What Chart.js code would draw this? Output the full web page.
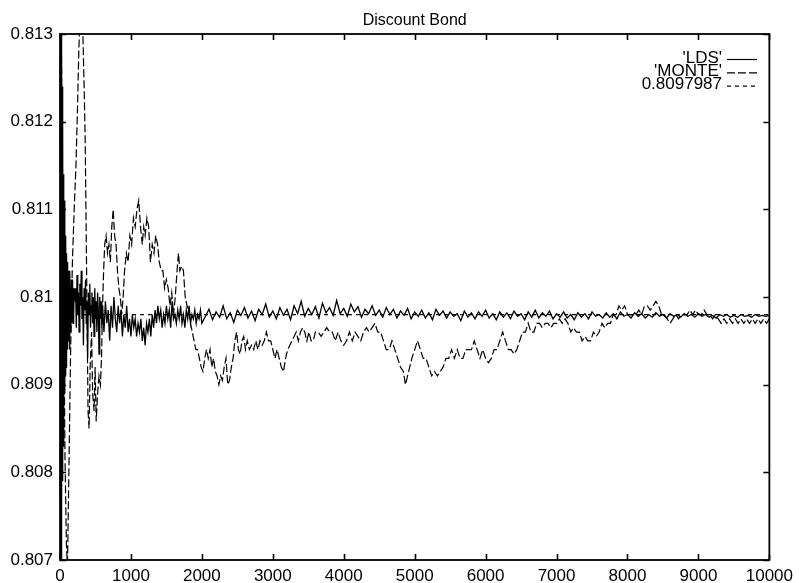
<!DOCTYPE html>
<html>
<head>
<meta charset="utf-8">
<script src="https://cdn.jsdelivr.net/npm/chart.js@4/dist/chart.umd.min.js"></script>
<style>
html,body{margin:0;padding:0;background:#fff;}
#wrap{width:799px;height:583px;}
</style>
</head>
<body>
<div id="wrap"><canvas id="c" width="799" height="583"></canvas></div>
<script>
const chartTitle = 'Discount Bond';
const seriesLabels = ["'LDS'", "'MONTE'", "0.8097987"];
const refValue = 0.8097987;
const xTickValues = [0,1000,2000,3000,4000,5000,6000,7000,8000,9000,10000];
const xTickLabels = ['0','1000','2000','3000','4000','5000','6000','7000','8000','9000','10000'];
const yTickValues = [0.807,0.808,0.809,0.810,0.811,0.812,0.813];
const yTickLabels = ['0.807','0.808','0.809','0.81','0.811','0.812','0.813'];

const ldsX = [
0,5,10,15,20,25,30,35,40,45,50,55,60,65,70,75,80,85,90,95,100,105,110,115,120,125,130,135,140,145,150,155,160,165,170,175,180,185,190,195,200,
210,220,230,240,250,260,270,280,290,300,310,320,330,340,350,360,370,380,390,400,410,420,430,440,450,460,470,480,490,500,510,520,530,540,550,560,570,580,590,600,
620,640,660,680,700,720,740,760,780,800,820,840,860,880,900,920,940,960,980,1000,1020,1040,1060,1080,1100,1120,1140,1160,1180,1200,1220,1240,1260,1280,1300,1320,1340,1360,1380,1400,1420,1440,1460,1480,1500,1520,1540,1560,1580,1600,1620,1640,1660,1680,1700,1720,1740,1760,1780,1800,1820,1840,1860,1880,1900,1920,1940,1960,1980,2000,
2050,2100,2150,2200,2250,2300,2350,2400,2450,2500,2550,2600,2650,2700,2750,2800,2850,2900,2950,3000,3050,3100,3150,3200,3250,3300,3350,3400,3450,3500,3550,3600,3650,3700,3750,3800,3850,3900,3950,4000,
4050,4100,4150,4200,4250,4300,4350,4400,4450,4500,4550,4600,4650,4700,4750,4800,4850,4900,4950,5000,5050,5100,5150,5200,5250,5300,5350,5400,5450,5500,5550,5600,5650,5700,5750,5800,5850,5900,5950,6000,
6050,6100,6150,6200,6250,6300,6350,6400,6450,6500,6550,6600,6650,6700,6750,6800,6850,6900,6950,7000,7050,7100,7150,7200,7250,7300,7350,7400,7450,7500,7550,7600,7650,7700,7750,7800,7850,7900,7950,8000,
8050,8100,8150,8200,8250,8300,8350,8400,8450,8500,8550,8600,8650,8700,8750,8800,8850,8900,8950,9000,9050,9100,9150,9200,9250,9300,9350,9400,9450,9500,9550,9600,9650,9700,9750,9800,9850,9900,9950,10000
];
const ldsY = [
0.8140,0.8062,0.8138,0.8068,0.8133,0.8075,0.8124,0.8079,0.8119,0.8083,0.8114,0.8086,0.8111,0.8089,0.8108,0.8091,0.8107,0.8092,0.8105,0.8093,0.8104,0.8094,0.8103,0.8095,0.8103,0.8096,0.8102,0.8094,0.8103,0.8097,0.8101,0.8096,0.8102,0.8097,0.8101,0.8098,0.8102,0.8097,0.8101,0.8098,0.8101,
0.80995,0.81010,0.80965,0.81025,0.80980,0.81005,0.80960,0.81015,0.80990,0.81030,0.80975,0.81000,0.80945,0.81010,0.80985,0.81020,0.80970,0.80995,0.80930,0.81005,0.80980,0.81015,0.80965,0.80990,0.81005,0.80970,0.81000,0.80955,0.81010,0.80975,0.80995,0.80960,0.81005,0.80985,0.80935,0.81000,0.80975,0.80995,0.80965,0.80990,
0.80960,0.80995,0.80970,0.80985,0.80950,0.80990,0.80965,0.81000,0.80975,0.80960,0.80990,0.80970,0.80985,0.80955,0.80980,0.80965,0.80990,0.80960,0.80975,0.80955,0.80980,0.80965,0.80975,0.80955,0.80970,0.80960,0.80975,0.80950,0.80965,0.80945,0.80970,0.80960,0.80975,0.80955,0.80980,0.80965,0.80985,0.80970,0.80990,0.80975,0.80985,0.80965,0.80980,0.80970,0.80990,0.80975,0.80985,0.80965,0.80995,0.80975,0.80980,0.80970,0.80985,0.80975,0.80990,0.80970,0.80980,0.80965,0.80985,0.80975,0.80990,0.80970,0.80980,0.80975,0.80985,0.80970,0.80980,0.80975,0.80985,0.80970,
0.80978,0.80986,0.80974,0.80983,0.80977,0.80990,0.80975,0.80982,0.80971,0.80985,0.80979,0.80988,0.80976,0.80984,0.80973,0.80986,0.80980,0.80992,0.80977,0.80984,0.80975,0.80988,0.80979,0.80986,0.80974,0.80990,0.80981,0.80995,0.80978,0.80987,0.80980,0.80989,0.80976,0.80993,0.80982,0.80988,0.80979,0.80996,0.80981,0.80987,
0.80978,0.80992,0.80983,0.80989,0.80977,0.80986,0.80981,0.80990,0.80979,0.80985,0.80977,0.80988,0.80980,0.80986,0.80976,0.80984,0.80979,0.80987,0.80975,0.80983,0.80978,0.80985,0.80976,0.80982,0.80974,0.80986,0.80979,0.80984,0.80976,0.80983,0.80978,0.80981,0.80973,0.80984,0.80977,0.80982,0.80975,0.80983,0.80978,0.80985,
0.80976,0.80981,0.80974,0.80983,0.80977,0.80982,0.80975,0.80984,0.80978,0.80981,0.80974,0.80983,0.80977,0.80985,0.80976,0.80982,0.80978,0.80984,0.80975,0.80981,0.80977,0.80983,0.80976,0.80980,0.80974,0.80982,0.80977,0.80981,0.80975,0.80983,0.80978,0.80980,0.80976,0.80982,0.80977,0.80981,0.80975,0.80983,0.80978,0.80980,
0.80976,0.80982,0.80978,0.80981,0.80976,0.80980,0.80977,0.80982,0.80978,0.80980,0.80976,0.80981,0.80978,0.80980,0.80977,0.80981,0.80978,0.80980,0.80977,0.80981,0.80978,0.80980,0.80977,0.80979,0.80976,0.80980,0.80978,0.80980,0.80977,0.80979,0.80977,0.80980,0.80978,0.80979,0.80977,0.80980,0.80978,0.80979,0.80978,0.80979
];

const monteX = [
0,20,45,70,90,105,125,150,175,200,225,245,265,285,300,320,340,355,375,395,410,425,445,460,480,495,510,530,550,570,585,600,615,630,650,670,690,710,730,750,770,790,810,830,850,870,890,910,935,960,985,1010,1035,1060,1085,1110,1135,1160,1180,1200,1225,1250,1275,1300,1325,1350,1375,1400,1425,1450,1475,1500,1525,1550,1575,1600,1625,1650,1670,1690,1715,1740,1765,1790,1815,1840,1865,1890,1915,1940,1965,1990,
2015,2040,2065,2090,2115,2140,2165,2190,2215,2240,2265,2290,2315,2340,2365,2390,2415,2440,2465,2490,2515,2540,2565,2590,2615,2640,2670,2700,2730,2760,2790,2820,2850,2880,2910,2940,2970,3000,3030,3060,3090,3120,3150,3180,3210,3240,3270,3300,3330,3360,3390,3420,3450,3480,3510,3540,3570,3600,3640,3680,3720,3760,3800,3840,3880,3920,3960,
4000,4040,4080,4120,4160,4200,4240,4280,4320,4360,4400,4440,4480,4520,4560,4600,4640,4680,4720,4760,4800,4840,4870,4900,4930,4960,5000,5040,5080,5120,5160,5200,5240,5280,5320,5360,5400,5440,5480,5520,5560,5600,5640,5680,5720,5760,5800,5840,5880,5920,5960,
6000,6040,6080,6120,6160,6200,6240,6280,6320,6360,6400,6440,6480,6520,6560,6600,6640,6680,6720,6760,6800,6840,6880,6920,6960,7000,7040,7080,7120,7160,7200,7240,7280,7320,7360,7400,7440,7480,7520,7560,7600,7640,7680,7720,7760,7800,7840,7880,7920,7960,
8000,8040,8080,8120,8160,8200,8240,8280,8320,8360,8400,8440,8480,8520,8560,8600,8640,8680,8720,8760,8800,8840,8880,8920,8960,9000,9040,9080,9120,9160,9200,9240,9280,9320,9360,9400,9440,9480,9520,9560,9600,9640,9680,9720,9760,9800,9840,9880,9920,9960,10000
];
const monteY = [
0.8140,0.8128,0.8105,0.8082,0.8072,0.8069,0.8080,0.8094,0.8104,0.8110,0.8115,0.8121,0.8128,0.8133,0.8136,0.8131,0.8124,0.8118,0.8103,0.8087,0.8085,0.8092,0.8096,0.8089,0.8087,0.8092,0.80858,0.8089,0.8091,0.8090,0.8093,0.8099,0.8103,0.8106,0.8107,0.8105,0.8106,0.8104,0.8108,0.8110,0.8107,0.8106,0.8103,0.8101,0.8100,0.8098,0.8100,0.8103,0.8105,0.8104,0.8107,0.8106,0.8109,0.8108,0.8110,0.8111,0.8108,0.8106,0.8108,0.8107,0.8109,0.8108,0.8104,0.8106,0.8105,0.8107,0.8106,0.8104,0.8103,0.8103,0.8101,0.8102,0.8101,0.8099,0.81005,0.8098,0.8100,0.8103,0.8105,0.8103,0.81035,0.8103,0.8100,0.8099,0.80985,0.8097,0.8096,0.8095,0.8094,0.8094,0.8093,0.8092,
0.80915,0.8093,0.8094,0.8093,0.8094,0.8092,0.8093,0.80915,0.8091,0.8090,0.8091,0.80905,0.8092,0.8093,0.8090,0.80905,0.8092,0.8093,0.8095,0.8096,0.8094,0.80935,0.8095,0.80955,0.8094,0.8095,0.8094,0.80945,0.8094,0.8095,0.8094,0.8095,0.80945,0.8095,0.8096,0.8095,0.8095,0.8094,0.8093,0.8094,0.8093,0.8092,0.80915,0.8093,0.8094,0.80945,0.8095,0.80955,0.8096,0.8095,0.8096,0.80965,0.8096,0.8095,0.8096,0.8095,0.8095,0.8096,0.8096,0.80955,0.8096,0.80965,0.8096,0.8096,0.8095,0.8096,0.8095,
0.80945,0.8095,0.8096,0.8095,0.8096,0.80955,0.8095,0.8096,0.80965,0.8096,0.80965,0.8097,0.8096,0.8096,0.8095,0.8094,0.8094,0.8095,0.8094,0.8093,0.8092,0.80915,0.8090,0.8091,0.8092,0.8093,0.8094,0.8095,0.8094,0.8093,0.8093,0.8092,0.8091,0.80915,0.8091,0.80915,0.8092,0.8093,0.8093,0.8094,0.8093,0.8094,0.8093,0.8093,0.8094,0.8094,0.8094,0.8095,0.8094,0.8093,0.8094,
0.8093,0.80925,0.8093,0.8094,0.8094,0.8095,0.8096,0.8095,0.8094,0.8094,0.80935,0.8094,0.8095,0.8096,0.8096,0.8097,0.8096,0.8096,0.8097,0.8097,0.80965,0.8097,0.8097,0.80965,0.8097,0.8097,0.80975,0.8097,0.80975,0.8097,0.8096,0.80965,0.8096,0.8096,0.8095,0.80955,0.8095,0.8095,0.8096,0.80955,0.8096,0.8097,0.80965,0.8097,0.8097,0.8098,0.8098,0.8099,0.80985,0.8099,
0.8098,0.8098,0.8098,0.8098,0.80985,0.8098,0.8099,0.8099,0.80985,0.8099,0.80995,0.8099,0.8098,0.8098,0.80975,0.8097,0.80975,0.8098,0.80975,0.8098,0.8098,0.8098,0.80985,0.8098,0.80985,0.8098,0.8098,0.80985,0.8098,0.8098,0.80975,0.8098,0.80975,0.8097,0.80975,0.8097,0.80975,0.8097,0.80975,0.8097,0.80975,0.8097,0.80975,0.8097,0.80975,0.8097,0.80975,0.8097,0.80975,0.8097,0.80975
];
const refX = [0, 10000];
const refY = [refValue, refValue];

const FONT = "'Liberation Sans', Arial, Helvetica, sans-serif";
const toPts = (xs, ys) => xs.map((x, i) => ({x: x, y: ys[i]}));

const framePlugin = {
  id: 'framePlugin',
  afterDraw(chart) {
    const ctx = chart.ctx, a = chart.chartArea;
    const xs = chart.scales.x, ys = chart.scales.y;
    ctx.save();
    // title centred over the plot area
    ctx.fillStyle = '#000';
    ctx.font = '16px ' + FONT;
    ctx.textAlign = 'center';
    ctx.textBaseline = 'alphabetic';
    ctx.fillText(chartTitle, (a.left + a.right) / 2, 25);
    // frame
    ctx.strokeStyle = '#000';
    ctx.lineWidth = 1.8;
    ctx.strokeRect(a.left, a.top, a.right - a.left, a.bottom - a.top);
    ctx.lineWidth = 1.6;
    ctx.beginPath();
    xTickValues.forEach(v => {
      const p = Math.round(xs.getPixelForValue(v)) + 0.5;
      ctx.moveTo(p, a.bottom); ctx.lineTo(p, a.bottom - 6);
      ctx.moveTo(p, a.top); ctx.lineTo(p, a.top + 6);
    });
    yTickValues.forEach(v => {
      const p = Math.round(ys.getPixelForValue(v)) + 0.5;
      ctx.moveTo(a.left, p); ctx.lineTo(a.left + 6, p);
      ctx.moveTo(a.right, p); ctx.lineTo(a.right - 6, p);
    });
    ctx.stroke();
    // legend (gnuplot style: text right-aligned, sample on the right)
    ctx.font = '17px ' + FONT;
    ctx.textAlign = 'right';
    ctx.textBaseline = 'middle';
    chart.data.datasets.forEach((ds, i) => {
      const yy = 58 + i * 13.3;
      ctx.fillText(ds.label, 722, yy);
      ctx.save();
      ctx.lineWidth = 1.2;
      ctx.setLineDash(ds.borderDash || []);
      ctx.beginPath();
      ctx.moveTo(727, yy + 1.5);
      ctx.lineTo(757, yy + 1.5);
      ctx.stroke();
      ctx.restore();
    });
    ctx.restore();
  }
};

new Chart(document.getElementById('c'), {
  type: 'line',
  data: {
    datasets: [
      {label: seriesLabels[0], data: toPts(ldsX, ldsY), borderColor: '#000', borderWidth: 1.3, borderDash: [], pointRadius: 0, tension: 0},
      {label: seriesLabels[1], data: toPts(monteX, monteY), borderColor: '#000', borderWidth: 1.2, borderDash: [8, 3], pointRadius: 0, tension: 0},
      {label: seriesLabels[2], data: toPts(refX, refY), borderColor: '#000', borderWidth: 1.2, borderDash: [4, 4], pointRadius: 0, tension: 0}
    ]
  },
  options: {
    responsive: false,
    animation: false,
    devicePixelRatio: 1,
    layout: {padding: {left: 0, right: 29, top: 34, bottom: 0}},
    plugins: {
      legend: {display: false},
      tooltip: {enabled: false},
      title: {display: false}
    },
    scales: {
      x: {
        type: 'linear', min: 0, max: 10000,
        grid: {drawOnChartArea: false, drawTicks: false},
        border: {display: false},
        afterBuildTicks: s => { s.ticks = xTickValues.map(v => ({value: v})); },
        afterFit: s => { s.height = 23; },
        ticks: {color: '#000', padding: 6, maxRotation: 0, autoSkip: false, font: {family: FONT, size: 17},
          callback: (v) => { const i = xTickValues.indexOf(v); return i >= 0 ? xTickLabels[i] : ''; }}
      },
      y: {
        type: 'linear', min: 0.807, max: 0.813,
        grid: {drawOnChartArea: false, drawTicks: false},
        border: {display: false},
        afterBuildTicks: s => { s.ticks = yTickValues.map(v => ({value: v})); },
        afterFit: s => { s.width = 60; },
        ticks: {color: '#000', padding: 7, autoSkip: false, font: {family: FONT, size: 17},
          callback: (v) => { const i = yTickValues.findIndex(t => Math.abs(t - v) < 1e-9); return i >= 0 ? yTickLabels[i] : ''; }}
      }
    }
  },
  plugins: [framePlugin]
});
</script>
</body>
</html>
